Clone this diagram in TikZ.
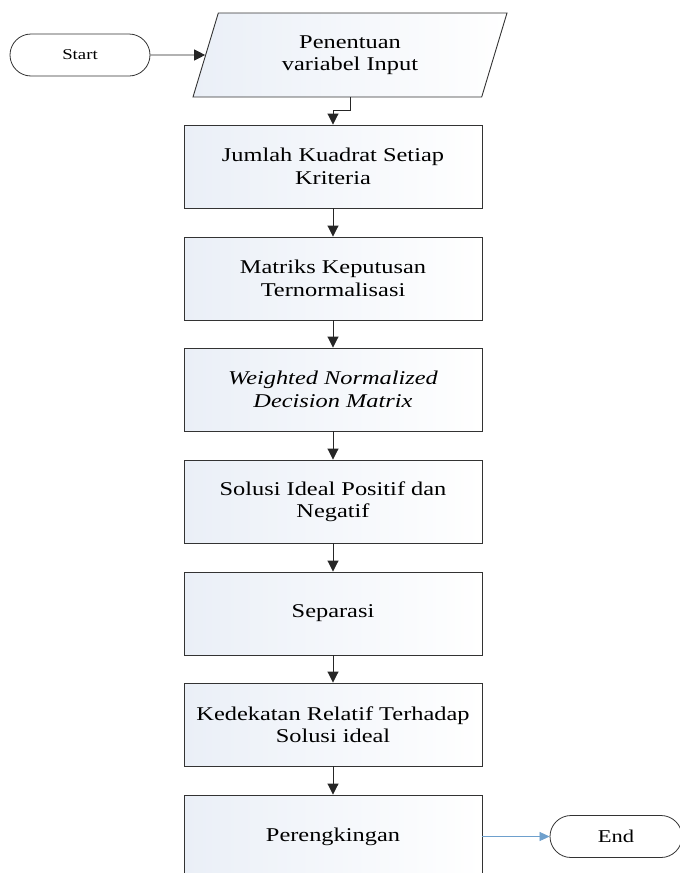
\documentclass[tikz,border=0pt]{standalone}
\usepackage{fontspec}
\setmainfont{Liberation Serif}[FakeStretch=1.25]
\usetikzlibrary{shapes.geometric,shapes.misc,arrows.meta}
\definecolor{boxfill}{RGB}{234,239,247}
\definecolor{endline}{RGB}{110,160,205}
\begin{document}
\begin{tikzpicture}[x=1pt,y=1pt] % the TOPSIS steps flowchart
    \tikzstyle{every node}+=[align=center,font=\fontsize{19.5}{22.5}\selectfont]
    \tikzstyle{step box}=[draw=black!80,line width=0.9pt,left color=boxfill,right color=white,minimum width=298pt,minimum height=83pt,inner sep=0pt]
    \tikzstyle{term}=[draw=black!80,line width=0.8pt,rounded rectangle,minimum height=42pt,inner sep=0pt]
    \tikzstyle{arr}=[black!85,line width=0.9pt,-{Triangle[length=11pt,width=11pt]}]
    \useasboundingbox (0,0) rectangle (680,-873);
    \node [term,minimum width=140pt,font=\fontsize{15}{18}\selectfont] (start) at (80,-55) {Start};
    \node [draw=black!80,line width=0.9pt,left color=boxfill,right color=white,trapezium,trapezium left angle=57.3,trapezium right angle=122.7,trapezium stretches body,minimum width=314pt,minimum height=84pt,inner sep=0pt] (input) at (350,-55) {Penentuan\\variabel Input};
    \node [step box] (jumlah) at (333,-166.5) {Jumlah Kuadrat Setiap\\Kriteria};
    \node [step box] (matriks) at (333,-278.5) {Matriks Keputusan\\Ternormalisasi};
    \node [step box] (weighted) at (333,-389.5) {\itshape Weighted Normalized\\\itshape Decision Matrix};
    \node [step box] (solusi) at (333,-501.5) {Solusi Ideal Positif dan\\Negatif};
    \node [step box] (separasi) at (333,-613.5) {Separasi};
    \node [step box] (kedekatan) at (333,-724.5) {Kedekatan Relatif Terhadap\\Solusi ideal};
    \node [step box] (ranking) at (333,-836.5) {Perengkingan};
    \node [term,minimum width=132pt,font=\fontsize{18}{21}\selectfont] (end) at (616,-836.5) {End};
    \draw [arr] (start) -- (input);
    \draw [arr] (input.south) -- ++(0,-13) -| (jumlah.north);
    \draw [arr] (jumlah) -- (matriks);
    \draw [arr] (matriks) -- (weighted);
    \draw [arr] (weighted) -- (solusi);
    \draw [arr] (solusi) -- (separasi);
    \draw [arr] (separasi) -- (kedekatan);
    \draw [arr] (kedekatan) -- (ranking);
    \draw [arr,endline,line width=0.7pt,-{Triangle[length=10pt,width=9pt]}] (ranking) -- (end);
\end{tikzpicture}
\end{document}
